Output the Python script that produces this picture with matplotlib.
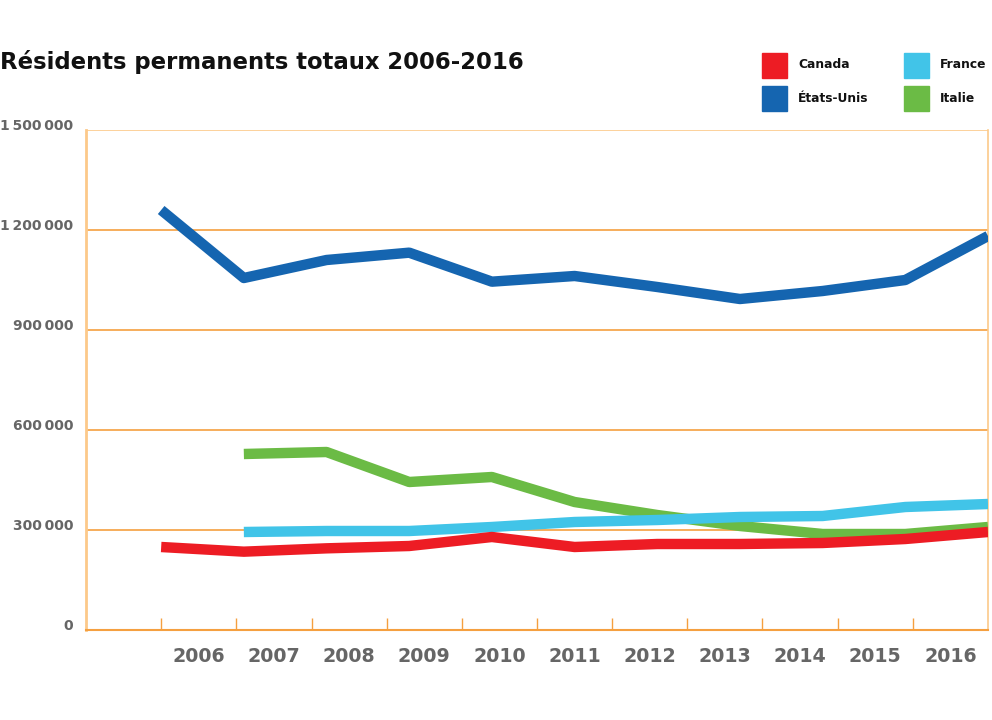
import matplotlib
matplotlib.use("Agg")
import matplotlib.pyplot as plt
from matplotlib.patches import Rectangle
from matplotlib.transforms import ScaledTranslation

plt.rcParams['font.family'] = ['DejaVu Sans']

# données
annees = [2006, 2007, 2008, 2009, 2010, 2011, 2012, 2013, 2014, 2015, 2016]
etats_unis = [1260000, 1056000, 1110000, 1132000, 1045000, 1062000, 1029000, 993000, 1017000, 1050000, 1182000]
canada = [249000, 235000, 245000, 252000, 279000, 249000, 258000, 258000, 261000, 273000, 294000]
annees_fr_it = annees[1:]
france = [294000, 297000, 297000, 309000, 324000, 330000, 339000, 342000, 369000, 378000]
italie = [528000, 534000, 444000, 459000, 384000, 345000, 312000, 288000, 288000, 309000]
yticks = [0, 300000, 600000, 900000, 1200000, 1500000]
ylabels = ['0', '300\u202f000', '600\u202f000', '900\u202f000', '1\u202f200\u202f000', '1\u202f500\u202f000']

ROUGE = '#ED1C24'
BLEU = '#1565B0'
CIEL = '#41C4E8'
VERT = '#6BBB45'
ORANGE = '#F5A040'
ORANGE_CLAIR = '#FCC98A'
GRIS = '#666666'


def pos_x(liste):
    # les années occupent de 1 à 12 sur l'axe
    return [1 + 1.1 * (a - 2006) for a in liste]


fig = plt.figure(figsize=(9.92, 7.2), dpi=100)
ax = fig.add_axes([86 / 992, 90 / 720, (988 - 86) / 992, 500 / 720])

for y in yticks[1:]:
    c = ORANGE_CLAIR if y == 1500000 else ORANGE
    ax.axhline(y, color=c, lw=1.2, zorder=1)

lw = 7.5
ax.plot(pos_x(annees_fr_it), italie, color=VERT, lw=lw, solid_capstyle='butt', zorder=3)
ax.plot(pos_x(annees_fr_it), france, color=CIEL, lw=lw, solid_capstyle='butt', zorder=4)
ax.plot(pos_x(annees), canada, color=ROUGE, lw=lw, solid_capstyle='butt', zorder=5)
ax.plot(pos_x(annees), etats_unis, color=BLEU, lw=lw, solid_capstyle='butt', zorder=6)

ax.set_xlim(0, 12)
ax.set_ylim(0, 1500000)

ax.spines['top'].set_visible(False)
ax.spines['left'].set_color(ORANGE_CLAIR)
ax.spines['right'].set_color(ORANGE_CLAIR)
ax.spines['left'].set_linewidth(2)
ax.spines['right'].set_linewidth(1.2)
ax.spines['bottom'].set_color(ORANGE)
ax.spines['bottom'].set_linewidth(1.5)

ax.set_xticks(range(1, 12))
ax.set_xticklabels([])
ax.tick_params(axis='x', direction='in', length=9, width=1, color=ORANGE)
ax.set_xticks([k + 1.5 for k in range(11)], minor=True)
ax.set_xticklabels([str(a) for a in annees], minor=True, fontsize=13.7,
                   fontweight='bold', color=GRIS)
ax.tick_params(axis='x', which='minor', length=0, pad=12)

ax.set_yticks(yticks)
ax.set_yticklabels(ylabels, fontsize=10, fontweight='bold', color=GRIS)
ax.tick_params(axis='y', length=0, pad=9)
decalage = ScaledTranslation(0, 4 / 100, fig.dpi_scale_trans)
for t in ax.get_yticklabels():
    t.set_verticalalignment('center')
    t.set_transform(t.get_transform() + decalage)

fig.text(0, 720 - 62, 'Résidents permanents totaux 2006-2016', fontsize=16.4,
         fontweight='bold', color='#111111', va='center', ha='left',
         transform=None)

# légende
legende = [('Canada', ROUGE, 762, 65), ('États-Unis', BLEU, 762, 98),
           ('France', CIEL, 904, 65), ('Italie', VERT, 904, 98)]
for nom, couleur, x0, yc in legende:
    fig.patches.append(Rectangle((x0, 720 - yc - 12.5), 25, 25, color=couleur,
                                 transform=None, figure=fig))
    fig.text(x0 + 36, 720 - yc, nom, fontsize=8.8, fontweight='bold',
             color='#111111', va='center', ha='left', transform=None)

fig.savefig('out.png', dpi=100)
